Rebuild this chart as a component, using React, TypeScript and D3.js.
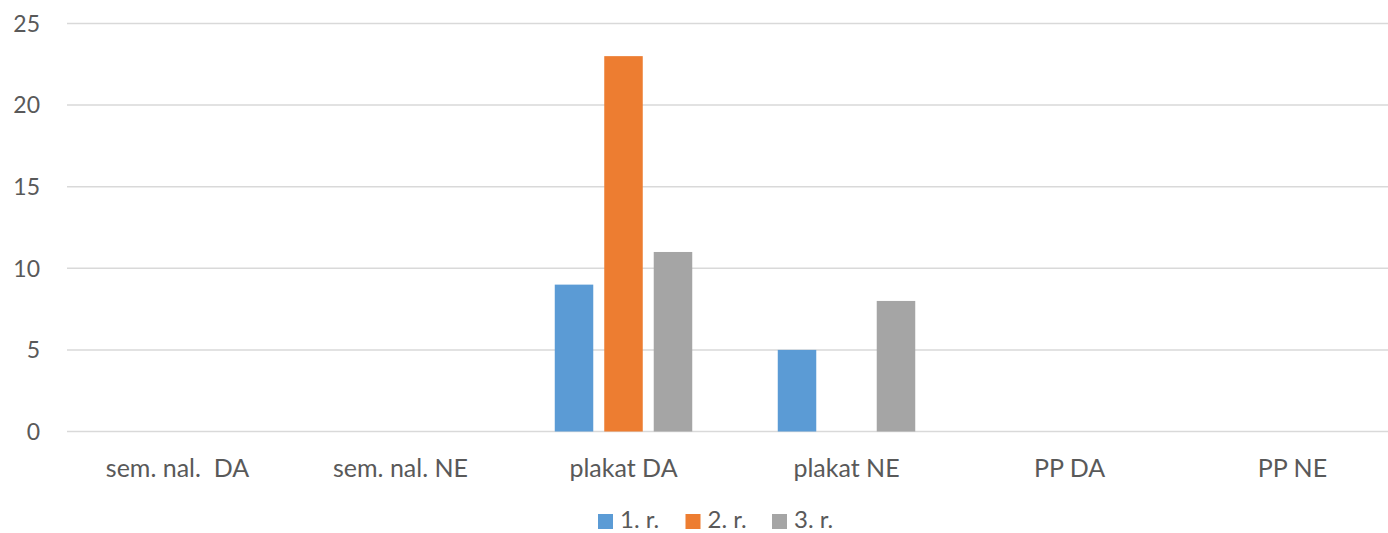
import React from "react";
import * as d3 from "d3";

const categories = ["sem. nal.  DA", "sem. nal. NE", "plakat DA", "plakat NE", "PP DA", "PP NE"];
const seriesNames = ["1. r.", "2. r.", "3. r."];
const series1 = [0, 0, 9, 5, 0, 0];
const series2 = [0, 0, 23, 0, 0, 0];
const series3 = [0, 0, 11, 8, 0, 0];
const seriesColors = ["#5B9BD5", "#ED7D31", "#A5A5A5"];
const yTicks = [0, 5, 10, 15, 20, 25];

const W = 1388;
const H = 533;
const FONT = "Lato, 'Open Sans', sans-serif";

export default function App() {
  const values = [series1, series2, series3];
  const x = d3.scaleBand<string>().domain(categories).range([66, 1404]).padding(0);
  const xi = d3
    .scaleBand<string>()
    .domain(seriesNames)
    .range([0, x.bandwidth()])
    .paddingInner(0.222)
    .paddingOuter(0.864);
  const y = d3.scaleLinear().domain([0, 25]).range([431.5, 23.5]);

  const legendX = [598, 685.5, 772];

  return (
    <svg
      width={W}
      height={H}
      style={{ position: "absolute", left: 0, top: 0, background: "#fff" }}
      fontFamily={FONT}
    >
      <rect x={0} y={0} width={W} height={H} fill="#fff" />
      {yTicks.map((t) => (
        <g key={t}>
          <line x1={67} x2={1404} y1={y(t)} y2={y(t)} stroke="#D9D9D9" strokeWidth={1.5} />
          <text x={40} y={y(t)} dy="0.36em" textAnchor="end" fontSize={23} fill="#595959">
            {t}
          </text>
        </g>
      ))}
      {values.map((vals, si) =>
        vals.map((v, ci) =>
          v > 0 ? (
            <rect
              key={`${si}-${ci}`}
              x={(x(categories[ci]) ?? 0) + (xi(seriesNames[si]) ?? 0)}
              y={y(v)}
              width={xi.bandwidth()}
              height={y(0) - y(v)}
              fill={seriesColors[si]}
            />
          ) : null
        )
      )}
      {categories.map((c) => (
        <text
          key={c}
          x={(x(c) ?? 0) + x.bandwidth() / 2}
          y={477}
          textAnchor="middle"
          fontSize={25}
          fill="#595959"
          style={{ whiteSpace: "pre" }}
        >
          {c}
        </text>
      ))}
      {seriesNames.map((s, i) => (
        <g key={s}>
          <rect x={legendX[i]} y={514} width={15} height={15} fill={seriesColors[i]} />
          <text x={legendX[i] + 22} y={528} fontSize={24} fill="#595959">
            {s}
          </text>
        </g>
      ))}
    </svg>
  );
}
